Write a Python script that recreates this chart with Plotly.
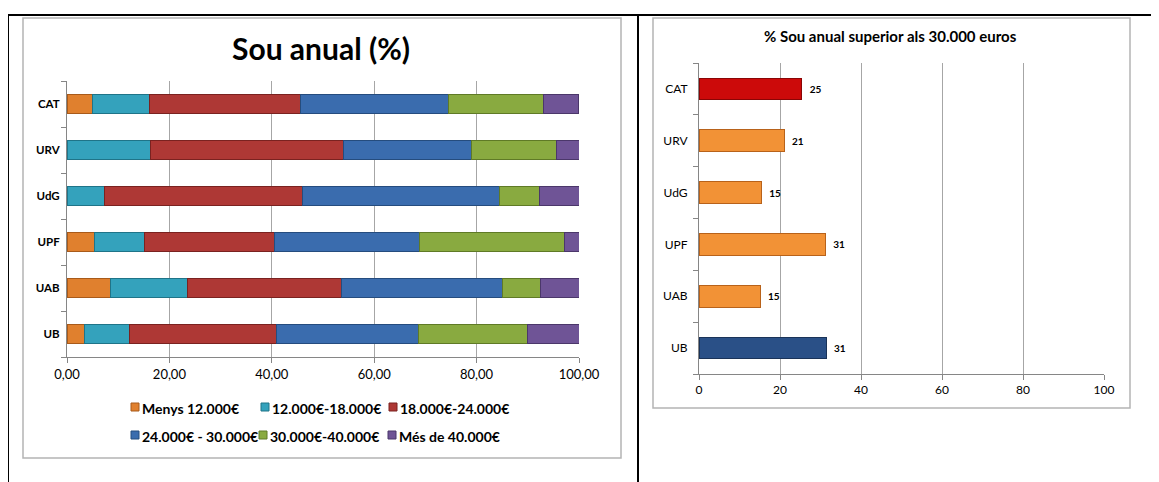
import plotly.graph_objects as go

# page body has an 8px default margin; figure is sized to fill the remaining window
OX, OY = 8, 8
W, H = 1159 - OX, 482 - OY

# ---------------- data ----------------
universities = ["UB", "UAB", "UPF", "UdG", "URV", "CAT"]
salary_bands = ["Menys 12.000€", "12.000€-18.000€", "18.000€-24.000€",
                "24.000€ - 30.000€", "30.000€-40.000€", "Més de 40.000€"]
band_values = [
    [3.5, 8.5, 5.3, 0.0, 0.0, 4.9],        # Menys 12.000€
    [8.7, 15.0, 9.8, 7.4, 16.3, 11.2],     # 12.000€-18.000€
    [28.8, 30.1, 25.5, 38.5, 37.8, 29.5],  # 18.000€-24.000€
    [27.7, 31.4, 28.2, 38.6, 24.9, 29.0],  # 24.000€ - 30.000€
    [21.3, 7.4, 28.4, 7.7, 16.7, 18.4],    # 30.000€-40.000€
    [10.0, 7.7, 2.8, 7.9, 4.3, 6.9],       # Més de 40.000€
]
above_30k = [31.4, 15.1, 31.2, 15.4, 21.0, 25.4]
x_ticks_left = [0, 20, 40, 60, 80, 100]
x_ticks_right = [0, 20, 40, 60, 80, 100]

band_colors = ["#E0802E", "#34A2BC", "#AE3835", "#3A6CAE", "#89AA40", "#6F5496"]
band_edges = ["#A85A1A", "#1F7488", "#7A2220", "#254C7E", "#5F7A26", "#4B376A"]
right_colors = ["#2A5087", "#F29236", "#F29236", "#F29236", "#F29236", "#CC0A0A"]
right_edges = ["#1A3358", "#B8621A", "#B8621A", "#B8621A", "#B8621A", "#8A0505"]

FONT = "Lato, 'Open Sans', sans-serif"


def px(x):
    return (x - OX) / W


def py(y):
    return 1 - (y - OY) / H


# legend layout (page pixels): symbol left edge, text left edge, row centre
legend_sym_x = [131, 261, 389, 131, 259, 388]
legend_text_x = [140, 270, 398, 140, 268, 397]
legend_row_y = [408, 408, 408, 436, 436, 436]

fig = go.Figure()

for i, (name, vals) in enumerate(zip(salary_bands, band_values)):
    fig.add_trace(go.Bar(
        y=universities, x=vals, name=name, orientation="h",
        marker=dict(color=band_colors[i], line=dict(color=band_edges[i], width=1)),
        xaxis="x", yaxis="y", showlegend=False,
        hoverinfo="x+y+name",
    ))

fig.add_trace(go.Bar(
    y=universities, x=above_30k, orientation="h", showlegend=False,
    marker=dict(color=right_colors, line=dict(color=right_edges, width=1)),
    text=[f"  {v:.0f}" for v in above_30k], textposition="outside",
    textfont=dict(family=FONT, size=10, color="#000000", weight="bold"),
    cliponaxis=False,
    xaxis="x2", yaxis="y2",
))

axis_common = dict(showline=True, linecolor="#868686", linewidth=1,
                   ticks="outside", ticklen=5, tickcolor="#868686",
                   showgrid=True, gridcolor="#A6A6A6", gridwidth=1,
                   zeroline=False, fixedrange=True, automargin=False)

annotations = [
    dict(text="<b>Sou anual (%)</b>", x=px(321), y=py(48), xref="paper", yref="paper",
         xanchor="center", yanchor="middle", showarrow=False,
         font=dict(size=30, family=FONT, color="#000000")),
    dict(text="<b>% Sou anual superior als 30.000 euros</b>", x=px(891), y=py(36),
         xref="paper", yref="paper", xanchor="center", yanchor="middle",
         showarrow=False, font=dict(size=15, family=FONT, color="#000000")),
]

shapes = [
    # chart frames
    dict(type="rect", xref="paper", yref="paper", x0=px(23), x1=px(621),
         y0=py(458), y1=py(18), line=dict(color="#B4B4B4", width=1.5), layer="below"),
    dict(type="rect", xref="paper", yref="paper", x0=px(653), x1=px(1130),
         y0=py(408), y1=py(18), line=dict(color="#B4B4B4", width=1.5), layer="below"),
    # table borders
    dict(type="line", xref="paper", yref="paper", x0=px(7), x1=1,
         y0=py(15), y1=py(15), line=dict(color="#000000", width=2)),
    dict(type="line", xref="paper", yref="paper", x0=px(8), x1=px(8),
         y0=py(15), y1=0, line=dict(color="#000000", width=2)),
    dict(type="line", xref="paper", yref="paper", x0=px(638), x1=px(638),
         y0=py(15), y1=0, line=dict(color="#000000", width=2)),
]

# legend: coloured key squares + labels
for i, name in enumerate(salary_bands):
    sx, tx, ry = legend_sym_x[i], legend_text_x[i], legend_row_y[i]
    shapes.append(dict(type="rect", xref="paper", yref="paper",
                       x0=px(sx), x1=px(sx + 8), y0=py(ry + 3), y1=py(ry - 5),
                       fillcolor=band_colors[i],
                       line=dict(color=band_edges[i], width=1)))
    annotations.append(dict(text=f"<b>{name}</b>", x=px(tx), y=py(ry), xref="paper",
                            yref="paper", xanchor="left", yanchor="middle",
                            showarrow=False,
                            font=dict(size=14, family=FONT, color="#000000")))

fig.update_layout(
    width=W, height=H,
    margin=dict(l=0, r=0, t=0, b=0, autoexpand=False),
    paper_bgcolor="white", plot_bgcolor="white",
    separators=",.",
    barmode="stack",
    bargap=0.58,
    showlegend=False,
    font=dict(family=FONT, color="#000000"),
    xaxis=dict(domain=[px(67), px(579)], anchor="y", range=[0, 100],
               tickvals=x_ticks_left, tickformat=".2f",
               tickfont=dict(size=13, family=FONT), **axis_common),
    yaxis=dict(domain=[py(357), py(81)], anchor="x", type="category",
               showline=True, linecolor="#868686", ticks="outside", ticklen=5,
               tickcolor="#868686", tickson="boundaries", showgrid=False,
               tickfont=dict(size=11.5, family=FONT, weight="bold"),
               ticklabelstandoff=4, fixedrange=True, automargin=False),
    xaxis2=dict(domain=[px(699), px(1104)], anchor="y2", range=[0, 100],
                tickvals=x_ticks_right, tickformat="d",
                tickfont=dict(size=12, family=FONT), **axis_common),
    yaxis2=dict(domain=[py(374), py(63)], anchor="x2", type="category",
                showline=True, linecolor="#868686", ticks="outside", ticklen=5,
                tickcolor="#868686", tickson="boundaries", showgrid=False,
                tickfont=dict(size=12, family=FONT),
                ticklabelstandoff=8, fixedrange=True, automargin=False),
    annotations=annotations,
    shapes=shapes,
)

fig.write_html("out.html")
